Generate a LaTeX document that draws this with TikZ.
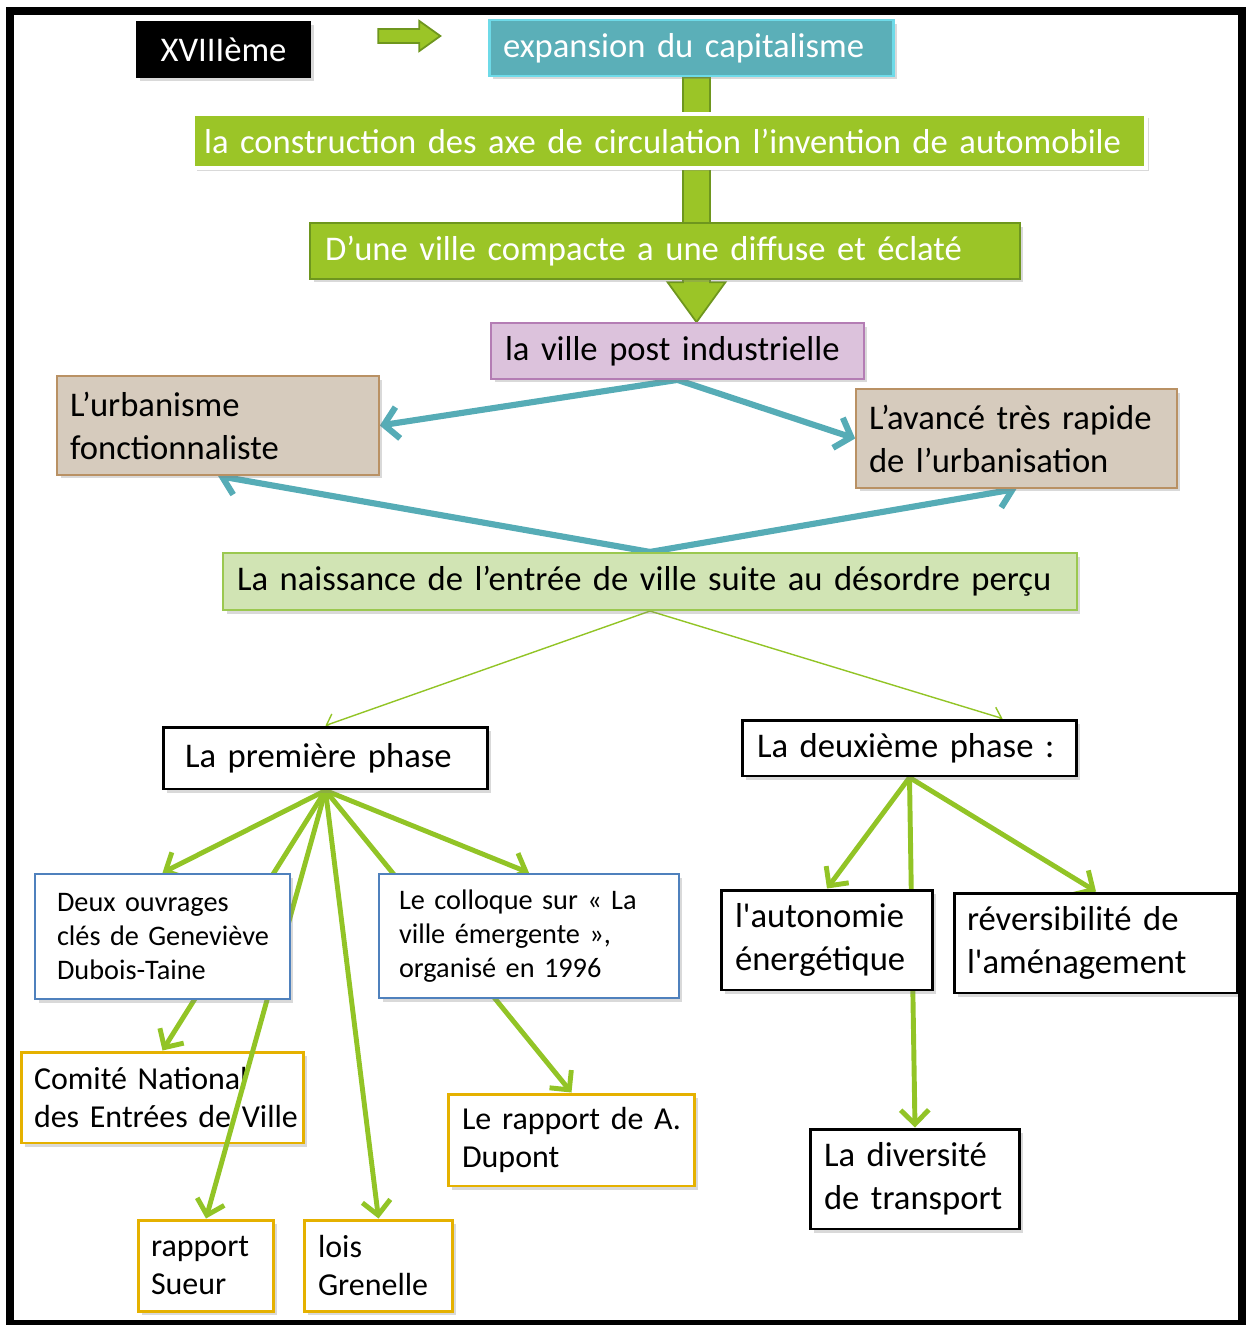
\documentclass[tikz,border=0pt]{standalone}
\usepackage{fontspec}
\setmainfont{Carlito}
\usepackage{xcolor}
\usetikzlibrary{arrows.meta,calc,shadows}
\hyphenpenalty=10000
\exhyphenpenalty=10000

\definecolor{leaf}{RGB}{155,197,39}
\definecolor{leafdark}{RGB}{110,150,30}
\definecolor{arrowgreen}{RGB}{146,196,38}
\definecolor{tealfill}{RGB}{91,175,184}
\definecolor{tealedge}{RGB}{110,218,232}
\definecolor{tealline}{RGB}{86,172,182}
\definecolor{lilac}{RGB}{220,194,220}
\definecolor{lilacedge}{RGB}{180,125,180}
\definecolor{sand}{RGB}{214,203,189}
\definecolor{sandedge}{RGB}{185,145,100}
\definecolor{mint}{RGB}{209,228,180}
\definecolor{mintedge}{RGB}{155,200,80}
\definecolor{boxblue}{RGB}{79,129,189}
\definecolor{boxgold}{RGB}{229,177,0}

\pgfdeclarelayer{back}
\pgfdeclarelayer{mid}
\pgfsetlayers{back,mid,main}

\begin{document}
\begin{tikzpicture}[x=0.02cm, y=-0.02cm,
    bigtxt/.style={font=\fontsize{19.7pt}{24.5pt}\selectfont},
    midtxt/.style={font=\fontsize{18.2pt}{22pt}\selectfont},
    smalltxt/.style={font=\fontsize{16.1pt}{19.3pt}\selectfont},
    card/.style={rectangle, align=left, inner xsep=0.28cm, inner ysep=0pt,
        drop shadow={shadow xshift=0.07cm, shadow yshift=-0.07cm, opacity=0.3}},
    plainbox/.style={card, fill=white, draw=black, line width=1.7pt},
    bluebox/.style={card, smalltxt, fill=white, draw=boxblue, line width=1.4pt},
    goldbox/.style={card, midtxt, fill=white, draw=boxgold, line width=1.7pt},
    blockarrow/.style={fill=leaf, draw=leafdark, line width=1pt},
    tealarrow/.style={draw=tealline, line width=3.5pt, -{Straight Barb[length=8pt,width=18pt]}},
    thinarrow/.style={draw=arrowgreen, line width=0.8pt, -{Straight Barb[length=5pt,width=10pt]}},
    greenarrow/.style={draw=arrowgreen, line width=2.8pt, -{Straight Barb[length=8pt,width=16pt]}}]
    \useasboundingbox (0,0) rectangle (1247,1325);

    \node[card, fill=black, text=white, bigtxt, align=center, text width=2.94cm, minimum height=1.14cm] (xviii) at (223.5,49.5) {XVIIIème};
    \node[card, bigtxt, fill=tealfill, draw=tealedge, line width=1.7pt, text=white, text width=7.54cm, minimum height=1.12cm] (expansion) at (691.5,48) {expansion~du~capitalisme};
    \node[card, bigtxt, fill=leaf, draw=white, line width=2.2pt, text=white, inner xsep=0.22cm, text width=18.62cm, minimum height=1.08cm] (construction) at (669.5,141) {la~construction~des~axe~de~circulation~l’invention~de~automobile};
    \node[card, bigtxt, fill=leaf, draw=leafdark, line width=1.5pt, text=white, inner xsep=0.3cm, text width=13.6cm, minimum height=1.12cm] (compacte) at (665,251) {D’une ville compacte a une diffuse et éclaté};
    \node[card, bigtxt, fill=lilac, draw=lilacedge, line width=1pt, text width=6.9cm, minimum height=1.12cm] (postind) at (677.5,351) {la~ville~post~industrielle};
    \node[card, bigtxt, fill=sand, draw=sandedge, line width=1pt, inner xsep=0.26cm, text width=5.92cm, minimum height=1.98cm] (urbanisme) at (218,425.5) {L’urbanisme\\fonctionnaliste};
    \node[card, bigtxt, fill=sand, draw=sandedge, line width=1pt, inner xsep=0.26cm, text width=5.9cm, minimum height=1.98cm] (avance) at (1016.5,438.5) {L’avancé~très~rapide\\de~l’urbanisation};
    \node[card, bigtxt, fill=mint, draw=mintedge, line width=1.2pt, text width=16.52cm, minimum height=1.14cm] (naissance) at (650,581.5) {La~naissance~de~l’entrée~de~ville~suite~au~désordre~perçu};
    \node[plainbox, bigtxt, inner xsep=0.44cm, text width=5.62cm, minimum height=1.24cm] (phase1) at (325.5,758) {La~première~phase};
    \node[plainbox, bigtxt, inner xsep=0.3cm, text width=6.1cm, minimum height=1.12cm] (phase2) at (909.5,748) {La~deuxième~phase~:};
    \node[bluebox, inner xsep=0.44cm, text width=4.22cm, minimum height=2.5cm] (ouvrages) at (162.5,936.5) {Deux~ouvrages\\clés~de~Geneviève\\Dubois-Taine};
    \node[bluebox, inner xsep=0.4cm, text width=5.2cm, minimum height=2.48cm] (colloque) at (529,936) {Le~colloque~sur~«~La\\ville~émergente~»,\\organisé~en~1996};
    \begin{pgfonlayer}{back}
    \node[goldbox, inner xsep=0.26cm, text width=5.14cm, minimum height=1.82cm] (comite) at (162.5,1097.5) {Comité~National\\des~Entrées~de~Ville};
    \end{pgfonlayer}
    \node[goldbox, text width=4.38cm, minimum height=1.84cm] (dupont) at (571.5,1140) {Le~rapport~de~A.\\Dupont};
    \node[goldbox, inner xsep=0.26cm, text width=2.2cm, minimum height=1.82cm] (sueur) at (206,1265.5) {rapport\\Sueur};
    \node[goldbox, text width=2.42cm, minimum height=1.82cm] (grenelle) at (378.5,1265.5) {lois\\Grenelle};
    \node[plainbox, bigtxt, text width=3.68cm, minimum height=2cm] (autonomie) at (827,940) {l\textquotesingle autonomie\\énergétique};
    \node[plainbox, bigtxt, inner xsep=0.26cm, text width=5.16cm, minimum height=2cm] (reversib) at (1096,943) {réversibilité~de\\l\textquotesingle aménagement};
    \node[plainbox, bigtxt, text width=3.64cm, minimum height=2cm] (diversite) at (915,1179) {La~diversité\\de~transport};

    \begin{pgfonlayer}{back}
    \coordinate (hs) at ($(xviii.east)+(67,-13.5)$);
    \filldraw[blockarrow] (hs) ++(0,-7) -- ++(41,0) -- ++(0,-8) -- ++(21,15) -- ++(-21,15) -- ++(0,-8) -- ++(-41,0) -- cycle;
    \coordinate (bt) at ($(expansion.south)+(5,0)$);
    \coordinate (bb) at (bt |- postind.north);
    \filldraw[blockarrow] ($(bt)+(-13.5,0)$) -- ($(bb)+(-13.5,-40)$) -- ($(bb)+(-29,-40)$) -- (bb)
        -- ($(bb)+(29,-40)$) -- ($(bb)+(13.5,-40)$) -- ($(bt)+(13.5,0)$) -- cycle;
    \draw[tealarrow] (postind.south) -- (urbanisme.east);
    \draw[tealarrow] (postind.south) -- (avance.west);
    \draw[tealarrow] (naissance.north) -- (urbanisme.south);
    \draw[tealarrow] (naissance.north) -- (avance.south);
    \draw[thinarrow] (naissance.south) -- (phase1.north);
    \draw[thinarrow] (naissance.south) -- ($(phase2.north)+(93,0)$);
    \foreach \t in {ouvrages,comite,grenelle,colloque,dupont}
        \draw[greenarrow] (phase1.south) -- (\t.north);
    \foreach \t in {autonomie,reversib,diversite}
        \draw[greenarrow] (phase2.south) -- (\t.north);
    \end{pgfonlayer}
    \begin{pgfonlayer}{mid}
    \draw[greenarrow] (phase1.south) -- (sueur.north);
    \end{pgfonlayer}

    \draw[line width=4.5pt] (10,11) rectangle (1242,1324);
\end{tikzpicture}
\end{document}
